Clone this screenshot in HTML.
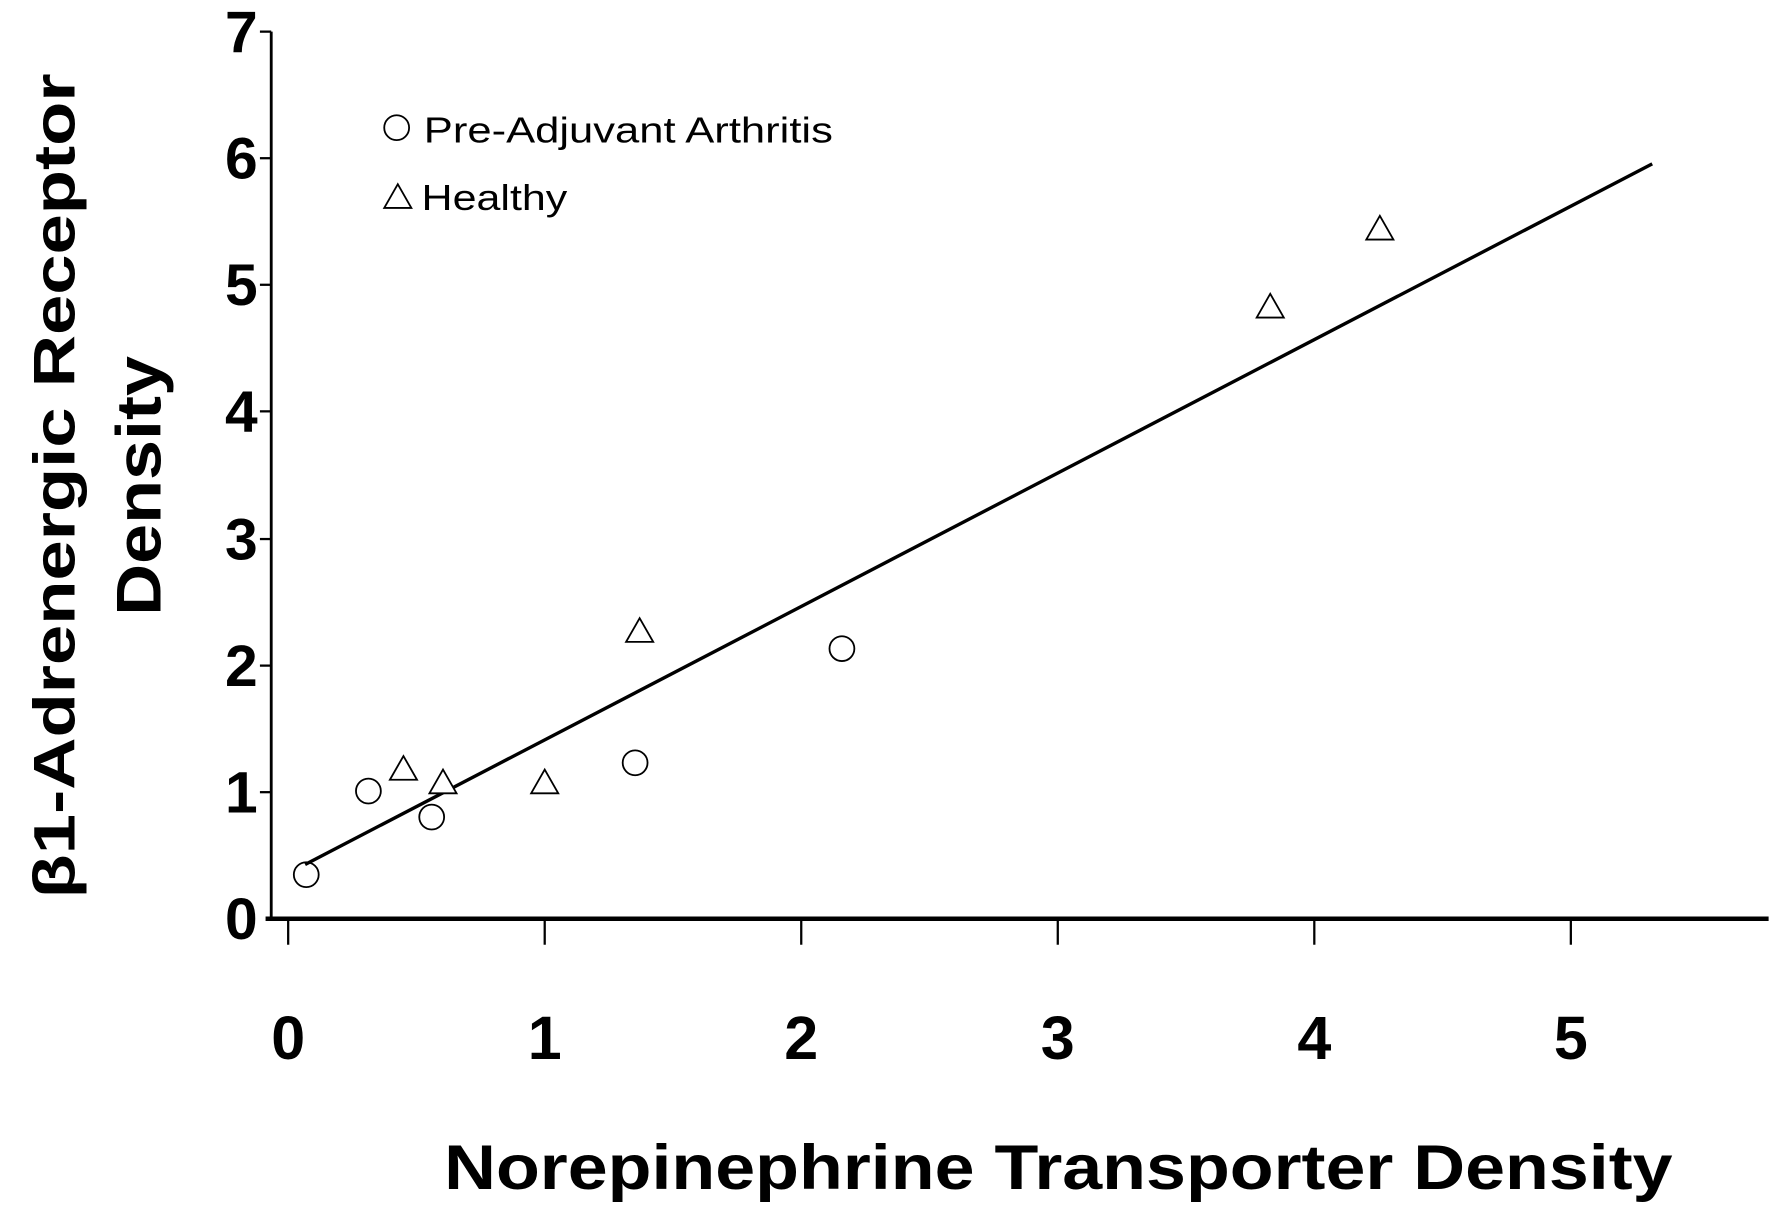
<!DOCTYPE html>
<html><head><style>html,body{margin:0;padding:0;background:#fff}svg{display:block}</style></head>
<body>
<svg width="1772" height="1212" viewBox="0 0 1568 1072.5" preserveAspectRatio="none" xmlns="http://www.w3.org/2000/svg" font-family="Liberation Sans, Arial, sans-serif">
<rect width="1568" height="1072.5" fill="#fff"/>
<g stroke="#000" fill="none">
<line x1="240" y1="28" x2="240" y2="815" stroke-width="2.5"/>
<line x1="235" y1="813" x2="1565" y2="813" stroke-width="4"/>
<g stroke-width="2">
<line x1="230" y1="28" x2="240" y2="28"/><line x1="230" y1="140" x2="240" y2="140"/>
<line x1="230" y1="252" x2="240" y2="252"/><line x1="230" y1="364" x2="240" y2="364"/>
<line x1="230" y1="477" x2="240" y2="477"/><line x1="230" y1="589" x2="240" y2="589"/>
<line x1="230" y1="701" x2="240" y2="701"/>
<line x1="255" y1="813" x2="255" y2="836"/><line x1="482" y1="813" x2="482" y2="836"/>
<line x1="709" y1="813" x2="709" y2="836"/><line x1="936" y1="813" x2="936" y2="836"/>
<line x1="1163" y1="813" x2="1163" y2="836"/><line x1="1390" y1="813" x2="1390" y2="836"/>
</g>
<line x1="270" y1="765" x2="1462" y2="145" stroke-width="3"/>
<g stroke-width="1.6">
<circle cx="271" cy="774" r="11"/><circle cx="326" cy="700" r="11"/><circle cx="382" cy="723" r="11"/>
<circle cx="562" cy="675" r="11"/><circle cx="745" cy="574" r="11"/>
<circle cx="351" cy="113" r="11"/>
<polygon points="357,669 369,690 345,690" fill="#fff"/>
<polygon points="392,681 404,702 380,702" fill="#fff"/>
<polygon points="482,681 494,702 470,702" fill="#fff"/>
<polygon points="566,547 578,568 554,568" fill="#fff"/>
<polygon points="1124,260 1136,281 1112,281" fill="#fff"/>
<polygon points="1221,191 1233,212 1209,212" fill="#fff"/>
<polygon points="352,163 364,184 340,184" fill="#fff"/>
</g>
</g>
<g font-weight="bold" font-size="52" text-anchor="end">
<text x="228" y="46" transform="translate(0,0)">7</text><text x="228" y="158">6</text><text x="228" y="270">5</text>
<text x="228" y="382">4</text><text x="228" y="495">3</text><text x="228" y="607">2</text>
<text x="228" y="719">1</text><text x="228" y="831">0</text>
</g>
<g font-weight="bold" font-size="54" text-anchor="middle">
<text x="255" y="937">0</text><text x="482" y="937">1</text><text x="709" y="937">2</text>
<text x="936" y="937">3</text><text x="1163" y="937">4</text><text x="1390" y="937">5</text>
</g>
<text x="393" y="1052" font-weight="bold" font-size="56" textLength="1087" lengthAdjust="spacingAndGlyphs">Norepinephrine Transporter Density</text>
<g font-weight="bold" text-anchor="middle">
<text transform="translate(66,430) rotate(-90)" font-size="52" textLength="730" lengthAdjust="spacingAndGlyphs">β1-Adrenergic Receptor</text>
<text transform="translate(142,430) rotate(-90)" font-size="56" textLength="230" lengthAdjust="spacingAndGlyphs">Density</text>
</g>
<text x="375" y="126" font-size="32" textLength="362" lengthAdjust="spacingAndGlyphs">Pre-Adjuvant Arthritis</text>
<text x="373" y="186" font-size="32" textLength="129" lengthAdjust="spacingAndGlyphs">Healthy</text>
</svg>
</body></html>
